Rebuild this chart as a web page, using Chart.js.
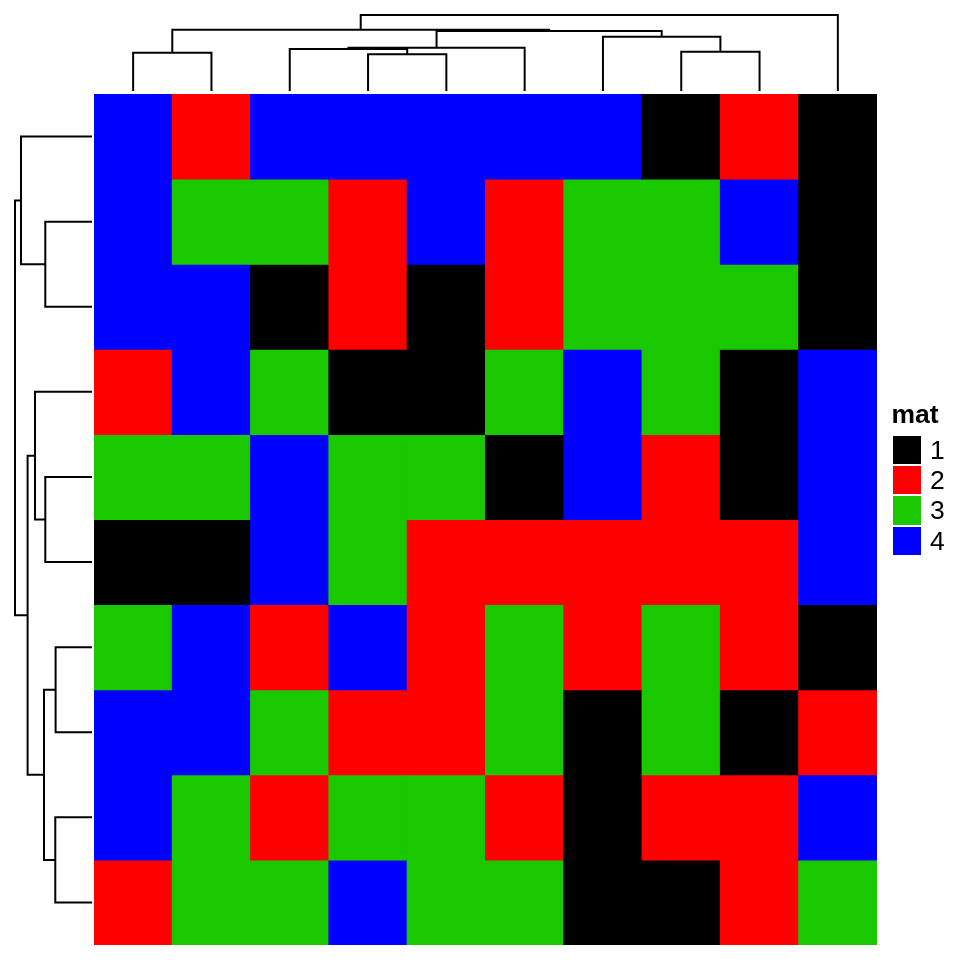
<!DOCTYPE html>
<html>
<head>
<meta charset="utf-8">
<script src="https://cdn.jsdelivr.net/npm/chart.js@4"></script>
<style>
  html, body { margin: 0; padding: 0; background: #ffffff; }
  #wrap { position: relative; width: 960px; height: 960px; overflow: hidden; background: #fff; }
  canvas { position: absolute; }
  .lg { position: absolute; font-family: "Liberation Sans", Arial, sans-serif; color: #000; white-space: nowrap; }
  .sw { position: absolute; }
</style>
</head>
<body>
<div id="wrap">
  <canvas id="heat" width="960" height="960" style="left:0;top:0"></canvas>
  <canvas id="dtop" width="783" height="91" style="left:94px;top:0"></canvas>
  <canvas id="dleft" width="92" height="851" style="left:0;top:94px"></canvas>
  <div id="legend"></div>
</div>
<script>
// ---- data ----
const columns = ["c1","c2","c3","c4","c5","c6","c7","c8","c9","c10"];
const rows = ["r1","r2","r3","r4","r5","r6","r7","r8","r9","r10"];
const row1  = [4,2,4,4,4,4,4,1,2,1];
const row2  = [4,3,3,2,4,2,3,3,4,1];
const row3  = [4,4,1,2,1,2,3,3,3,1];
const row4  = [2,4,3,1,1,3,4,3,1,4];
const row5  = [3,3,4,3,3,1,4,2,1,4];
const row6  = [1,1,4,3,2,2,2,2,2,4];
const row7  = [3,4,2,4,2,3,2,3,2,1];
const row8  = [4,4,3,2,2,3,1,3,1,2];
const row9  = [4,3,2,3,3,2,1,2,2,4];
const row10 = [2,3,3,4,3,3,1,1,2,3];
const matrixRows = [row1,row2,row3,row4,row5,row6,row7,row8,row9,row10];

const legendTitle = "mat";
const levels = ["1","2","3","4"];
const levelColors = {"1":"#000000","2":"#FF0000","3":"#1AC800","4":"#0000FF"};

// column dendrogram (hclust-style merges, leaves negative, in display order)
const colMergeA = [-1,-4,-8,-3, 4,-7, 5, 1, 8];
const colMergeB = [-2,-5,-9, 2,-6, 3, 6, 7,-10];
const colHeights = [3.83,3.67,3.93,4.20,4.33,5.43,6.00,6.13,7.60];
// row dendrogram
const rowMergeA = [-2,-5,-7,-9,-1,-4, 3, 6, 5];
const rowMergeB = [-3,-6,-8,-10, 1, 2, 4, 7, 8];
const rowHeights = [4.67,4.67,3.64,3.67,7.10,5.70,4.80,6.44,7.70];

Chart.defaults.animation = false;

// ---- heatmap ----
const heatDatasets = matrixRows.map((vals, r) => ({
  label: rows[r],
  data: columns.map(() => [r, r + 1]),
  backgroundColor: vals.map(v => levelColors[String(v)]),
  borderWidth: 0,
  grouped: false,
  inflateAmount: 0.5,
  barPercentage: 1,
  categoryPercentage: 1
}));

new Chart(document.getElementById("heat"), {
  type: "bar",
  data: { labels: columns, datasets: heatDatasets },
  options: {
    responsive: false,
    animation: false,
    layout: { padding: { left: 94, top: 94, right: 83, bottom: 15 } },
    plugins: { legend: { display: false }, tooltip: { enabled: false } },
    scales: {
      x: { type: "category", display: false, offset: true, grid: { display: false } },
      y: { type: "linear", min: 0, max: 10, reverse: true, display: false }
    }
  }
});

// ---- dendrogram helpers ----
function dendroSegments(mA, mB, heights, nLeaves) {
  const pos = [], hts = [], segs = [];
  function node(id) {
    if (id < 0) return { p: (-id - 1) + 0.5, h: 0 };
    return { p: pos[id - 1], h: hts[id - 1] };
  }
  for (let k = 0; k < heights.length; k++) {
    const a = node(mA[k]), b = node(mB[k]);
    const h = heights[k];
    pos.push((a.p + b.p) / 2);
    hts.push(h);
    segs.push([[a.p, a.h], [a.p, h], [b.p, h], [b.p, b.h]]);
  }
  return segs;
}

const lineStyle = {
  showLine: true, pointRadius: 0, borderColor: "#000000", borderWidth: 2,
  tension: 0, clip: false, borderJoinStyle: "miter", borderCapStyle: "butt", fill: false
};

// top (column) dendrogram
const topSegs = dendroSegments(colMergeA, colMergeB, colHeights, columns.length);
new Chart(document.getElementById("dtop"), {
  type: "scatter",
  data: { datasets: topSegs.map(s => Object.assign({ data: s.map(([p, h]) => ({ x: p, y: h })) }, lineStyle)) },
  options: {
    responsive: false, animation: false,
    layout: { padding: { left: 0, right: 0, top: 15, bottom: 0 } },
    plugins: { legend: { display: false }, tooltip: { enabled: false } },
    scales: {
      x: { type: "linear", min: 0, max: columns.length, display: false },
      y: { type: "linear", min: 0, max: Math.max(...colHeights), display: false }
    }
  }
});

// left (row) dendrogram
const leftSegs = dendroSegments(rowMergeA, rowMergeB, rowHeights, rows.length);
new Chart(document.getElementById("dleft"), {
  type: "scatter",
  data: { datasets: leftSegs.map(s => Object.assign({ data: s.map(([p, h]) => ({ x: h, y: p })) }, lineStyle)) },
  options: {
    responsive: false, animation: false,
    layout: { padding: { left: 15, right: 0, top: 0, bottom: 0 } },
    plugins: { legend: { display: false }, tooltip: { enabled: false } },
    scales: {
      x: { type: "linear", min: 0, max: Math.max(...rowHeights), reverse: true, display: false },
      y: { type: "linear", min: 0, max: rows.length, reverse: true, display: false }
    }
  }
});

// ---- legend (HTML) ----
const lg = document.getElementById("legend");
const title = document.createElement("div");
title.className = "lg";
title.textContent = legendTitle;
Object.assign(title.style, { left: "891.5px", top: "400.5px", fontSize: "26.5px", lineHeight: "26.5px", fontWeight: "bold" });
lg.appendChild(title);
const pitch = 30.3, y0 = 434.7;
levels.forEach((lv, i) => {
  const sw = document.createElement("div");
  sw.className = "sw";
  Object.assign(sw.style, {
    left: "892.5px", top: (y0 + i * pitch + 1) + "px", width: "28.5px", height: (pitch - 2) + "px",
    background: levelColors[lv]
  });
  lg.appendChild(sw);
  const t = document.createElement("div");
  t.className = "lg";
  t.textContent = lv;
  Object.assign(t.style, { left: "930px", top: (y0 + i * pitch) + "px", fontSize: "26.5px", lineHeight: pitch + "px" });
  lg.appendChild(t);
});
</script>
</body>
</html>
